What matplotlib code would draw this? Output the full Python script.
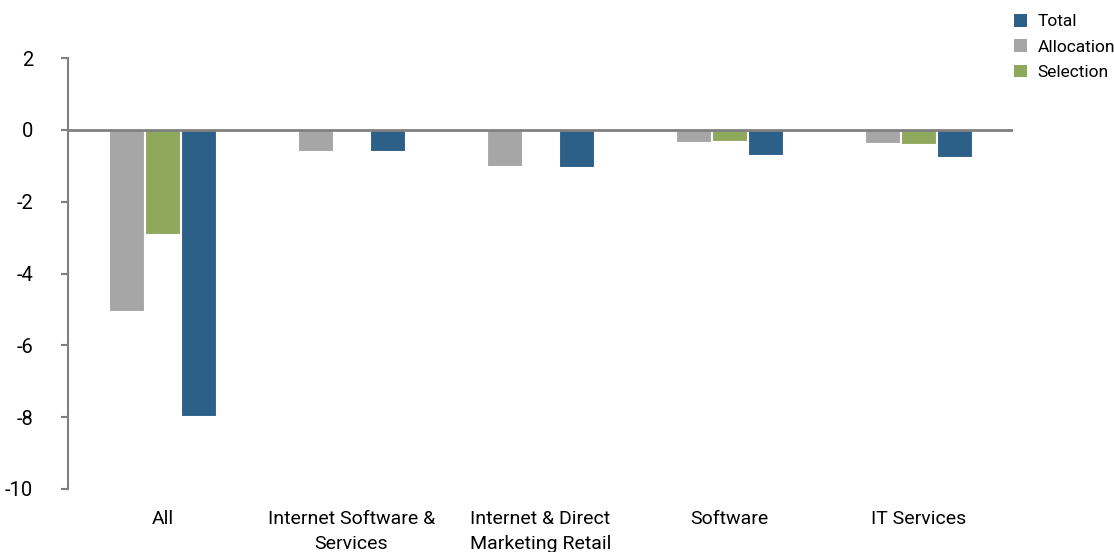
import matplotlib
matplotlib.use('Agg')
import matplotlib.pyplot as plt
import numpy as np

plt.rcParams['font.family'] = ['Roboto', 'DejaVu Sans']
plt.rcParams['axes.unicode_minus'] = False

categories = ['All', 'Internet Software &\nServices', 'Internet & Direct\nMarketing Retail',
              'Software', 'IT Services']
allocation = [-5.05, -0.6, -1.0, -0.35, -0.36]
selection = [-2.9, 0.0, 0.0, -0.32, -0.4]
total = [-7.97, -0.6, -1.04, -0.69, -0.77]

grey = '#a6a6a6'
green = '#8ea85c'
blue = '#2d6089'
axis_grey = '#808080'

fig = plt.figure(figsize=(11.14, 5.52), dpi=100)
ax = fig.add_axes([68 / 1114, 1 - 489 / 552, 945 / 1114, 431 / 552])

x = np.arange(len(categories))
w = 0.185
step = 0.193
b_all = ax.bar(x - step, allocation, w, color=grey, edgecolor='white', linewidth=0.8, label='Allocation')
b_sel = ax.bar(x, selection, w, color=green, edgecolor='white', linewidth=0.8, label='Selection')
b_tot = ax.bar(x + step, total, w, color=blue, edgecolor='white', linewidth=0.8, label='Total')

ax.axhline(0, color=axis_grey, lw=2, zorder=3)

ax.set_xlim(-0.5, len(categories) - 0.5)
ax.set_ylim(-10, 2)
ax.set_yticks(range(-10, 3, 2))
ax.set_xticks(x)
ax.set_xticklabels(categories, fontsize=14, linespacing=1.5)
ax.tick_params(axis='x', length=0, pad=15)
ax.tick_params(axis='y', length=5, width=1.5, color=axis_grey, pad=20, labelsize=14.5)

for side in ['top', 'right', 'bottom']:
    ax.spines[side].set_visible(False)
ax.spines['left'].set_color(axis_grey)
ax.spines['left'].set_linewidth(1.5)

leg = fig.legend([b_tot, b_all, b_sel], ['Total', 'Allocation', 'Selection'],
                 loc='upper right', bbox_to_anchor=(1.012, 0.997), frameon=False,
                 fontsize=12.5, handlelength=0.75, handleheight=0.75, handletextpad=0.6,
                 labelspacing=0.58, borderaxespad=0.3)
for h in leg.legend_handles:
    h.set_edgecolor('none')

fig.savefig('out.png', dpi=100)
